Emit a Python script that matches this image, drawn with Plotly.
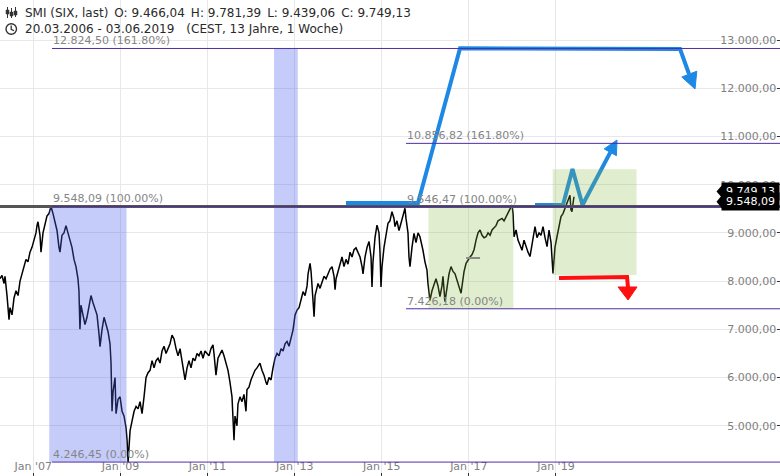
import plotly.graph_objects as go
from datetime import datetime

# ---------------- data (decimal years / index points) ----------------
price_t = [
 2006.235,2006.281,2006.327,2006.350,2006.396,2006.442,2006.465,2006.511,2006.557,2006.603,2006.649,2006.695,
 2006.741,2006.786,2006.832,2006.878,2006.924,2006.970,
 2007.016,2007.062,2007.085,2007.108,2007.154,2007.177,2007.223,2007.268,2007.314,2007.360,2007.407,2007.453,
 2007.499,2007.545,2007.590,2007.613,2007.659,2007.705,2007.751,2007.797,2007.843,2007.889,2007.935,2007.981,
 2008.026,2008.049,2008.072,2008.095,2008.141,2008.187,2008.233,2008.279,2008.325,2008.371,2008.417,2008.463,
 2008.509,2008.532,2008.578,2008.624,2008.670,2008.716,2008.761,2008.784,2008.807,2008.830,2008.876,2008.899,
 2008.945,2008.991,
 2009.037,2009.083,2009.129,2009.152,2009.175,2009.198,2009.221,2009.267,2009.313,2009.359,2009.405,2009.450,
 2009.496,2009.542,2009.588,2009.634,2009.680,2009.726,2009.772,2009.818,2009.863,2009.909,2009.955,
 2010.001,2010.047,2010.093,2010.139,2010.185,2010.231,2010.277,2010.323,2010.369,2010.415,2010.461,2010.484,
 2010.530,2010.575,2010.621,2010.667,2010.713,2010.759,2010.805,2010.851,2010.897,2010.943,2010.989,
 2011.034,2011.080,2011.126,2011.149,2011.195,2011.241,2011.287,2011.333,2011.379,2011.425,2011.471,2011.517,
 2011.563,2011.609,2011.632,2011.677,2011.700,2011.746,2011.792,2011.838,2011.884,2011.907,2011.953,2011.999,
 2012.045,2012.091,2012.137,2012.182,2012.205,2012.251,2012.297,2012.343,2012.366,2012.412,2012.458,2012.504,
 2012.550,2012.596,2012.642,2012.688,2012.734,2012.780,2012.825,2012.871,2012.917,2012.963,
 2013.009,2013.055,2013.101,2013.147,2013.193,2013.239,2013.285,2013.308,2013.354,2013.377,2013.400,2013.423,
 2013.446,2013.469,2013.515,2013.537,2013.583,2013.629,2013.675,2013.721,2013.767,2013.813,2013.859,2013.905,
 2013.928,2013.951,2013.997,
 2014.042,2014.088,2014.134,2014.180,2014.226,2014.272,2014.318,2014.364,2014.410,2014.456,2014.502,2014.548,
 2014.571,2014.617,2014.663,2014.709,2014.755,2014.777,2014.800,2014.846,2014.892,2014.938,2014.961,2014.984,
 2015.007,2015.053,2015.099,2015.145,2015.190,2015.236,2015.282,2015.305,2015.351,2015.397,2015.443,2015.489,
 2015.535,2015.558,2015.604,2015.627,2015.650,2015.696,2015.742,2015.788,2015.834,2015.879,2015.925,2015.948,
 2015.994,
 2016.040,2016.063,2016.109,2016.155,2016.201,2016.247,2016.293,2016.338,2016.384,2016.407,2016.453,2016.499,
 2016.545,2016.591,2016.637,2016.683,2016.729,2016.775,2016.821,2016.844,2016.890,2016.936,2016.981,
 2017.027,2017.073,2017.119,2017.165,2017.211,2017.257,2017.303,2017.349,2017.395,2017.441,2017.487,2017.533,
 2017.579,2017.624,2017.670,2017.716,2017.762,2017.808,2017.854,2017.900,2017.946,2017.992,
 2018.015,2018.038,2018.084,2018.129,2018.175,2018.221,2018.267,2018.313,2018.359,2018.405,2018.451,2018.497,
 2018.520,2018.566,2018.612,2018.658,2018.704,2018.750,2018.796,2018.842,2018.888,2018.933,2018.979,
 2019.025,2019.071,2019.117,2019.163,2019.209,2019.255,2019.301,2019.323,2019.346,2019.369,2019.392,2019.415,
]
price_v = [
 8050,8120,7950,8100,7700,7200,7450,7300,7650,7800,7700,8000,
 8150,8300,8450,8400,8600,8700,
 8850,9000,9150,9230,8950,8600,9000,9200,9350,9400,9548,9400,
 9250,9050,8700,8600,8950,9000,9150,9000,8800,8700,8450,8300,
 8050,7800,7000,7500,7300,7100,7250,7500,7700,7550,7400,7300,
 6900,6640,7000,7250,7100,6950,6700,6300,5300,5700,6000,5250,
 5550,5600,
 5300,5200,4950,4700,4250,4600,4900,5100,5300,5400,5350,5500,
 5250,5600,6000,6100,6150,6350,6200,6350,6400,6300,6550,
 6650,6500,6600,6700,6880,6800,6600,6450,6600,6300,6100,5950,
 6200,6350,6200,6400,6350,6500,6450,6550,6400,6550,6500,
 6450,6600,6680,6500,6050,6400,6500,6570,6450,6300,6150,5900,
 5600,4700,5200,5000,5450,5600,5500,5650,5300,5750,5800,5950,
 6050,6150,6200,6250,6300,6150,6050,5900,5850,6000,5950,6200,
 6400,6500,6450,6600,6550,6700,6750,6650,6850,6990,
 7300,7400,7450,7600,7780,7700,7900,8150,8370,8200,7900,7600,
 7262,7700,7900,7950,7850,8000,8100,8050,8150,8250,8300,8100,
 7820,8050,8200,
 8350,8500,8300,8450,8350,8600,8500,8650,8690,8600,8500,8300,
 8150,8500,8700,8820,8500,7880,8400,8900,9160,9000,8600,7880,
 8300,8700,8950,9200,9250,9440,9300,9130,9250,9050,9200,9350,
 9510,9300,9000,8500,8300,8700,8990,8800,9000,8920,8750,8640,
 8400,
 8230,7950,7600,7800,7950,8050,7900,7680,7900,8100,7573,7900,
 8150,8300,8200,8150,8000,7850,7750,7900,8200,8370,8450,
 8500,8550,8650,8850,9000,9060,8950,8900,8920,9000,8950,9060,
 9100,9150,9250,9270,9300,9250,9340,9400,9500,9578,
 9400,8920,9060,8850,8750,8640,8850,8700,8600,8510,8800,9000,
 9130,8900,9000,8950,9130,8900,8714,9060,8800,8160,8700,
 8920,9100,9340,9400,9500,9610,9700,9780,9480,9440,9600,9749,
]

# Fibonacci extension 1 (2007 high -> 2009 low)
fib1_levels = [12824.50, 9548.09, 4246.45]
fib1_labels = ["12.824,50 (161.80%)", "9.548,09 (100.00%)", "4.246,45 (0.00%)"]
fib1_start = 2007.430
fib1_zone_t = [2007.367, 2009.140]
fib1_zone2_t = [2012.527, 2013.071]

# Fibonacci extension 2 (2015 high -> 2016 low)
fib2_levels = [10856.82, 9546.47, 7426.18]
fib2_labels = ["10.856,82 (161.80%)", "9.546,47 (100.00%)", "7.426,18 (0.00%)"]
fib2_start = 2015.558
green1_t = [2016.075, 2018.022]
green1_v = [7426.18, 9546.47]
green2_t = [2018.927, 2020.851]
green2_v = [8127, 10319]

hline_level = 9548.09
last_close = 9749.13
mini_line_t = [2016.936, 2017.257]
mini_line_v = 8479

# hand-drawn projection arrows
arrow1_t = [2014.180, 2015.834, 2016.798, 2021.850, 2022.056]
arrow1_v = [9620, 9620, 12830, 12813, 12295]
arrow1_head_t = [2022.194, 2022.235, 2021.890]
arrow1_head_v = [11984, 12353, 12233]
arrow2_t = [2018.520, 2019.163, 2019.381, 2019.611, 2020.249]
arrow2_v = [9578, 9578, 10325, 9578, 10671]
arrow2_head_t = [2020.403, 2020.389, 2020.109]
arrow2_head_v = [10926, 10601, 10742]
red_t = [2019.071, 2020.633, 2020.656]
red_v = [8064, 8085, 7857]
red_head_t = [2020.656, 2020.426, 2020.862]
red_head_v = [7608, 7878, 7878]

ytick_vals = list(range(4000, 14000, 1000))
xtick_years = [2007, 2009, 2011, 2013, 2015, 2017, 2019]
xtick_text = ["Jan '07", "Jan '09", "Jan '11", "Jan '13", "Jan '15", "Jan '17", "Jan '19"]

header1 = "SMI (SIX, last)\u2002O: 9.466,04\u2002H: 9.781,39\u2002L: 9.439,06\u2002C: 9.749,13"
header2 = "20.03.2006 - 03.06.2019\u2002\u2002(CEST, 13 Jahre, 1 Woche)"

# ---------------- helpers ----------------
W, H = 780, 476
def dt(y):
    yr = int(y)
    s = datetime(yr, 1, 1); e = datetime(yr + 1, 1, 1)
    return s + (e - s) * (y - yr)
def px(x): return x / W
def py(y): return 1 - y / H

BLUE = "#1e88e5"
RED = "#ff1010"
PURPLE = "#4f2fa6"
FONT = "DejaVu Sans"

fig = go.Figure()
fig.add_trace(go.Scatter(x=[dt(t) for t in price_t], y=price_v, mode="lines",
                         line=dict(color="black", width=1.5), hoverinfo="skip"))
for tt, vv in [(arrow1_t, arrow1_v), (arrow2_t, arrow2_v)]:
    fig.add_trace(go.Scatter(x=[dt(t) for t in tt], y=vv, mode="lines",
                             line=dict(color=BLUE, width=4), hoverinfo="skip"))
fig.add_trace(go.Scatter(x=[dt(t) for t in red_t], y=red_v, mode="lines",
                         line=dict(color=RED, width=4), hoverinfo="skip"))
for tt, vv, c in [(arrow1_head_t, arrow1_head_v, BLUE), (arrow2_head_t, arrow2_head_v, BLUE),
                  (red_head_t, red_head_v, RED)]:
    fig.add_trace(go.Scatter(x=[dt(t) for t in tt + tt[:1]], y=vv + vv[:1], mode="lines",
                             fill="toself", fillcolor=c, line=dict(color=c, width=1), hoverinfo="skip"))

shapes = []
# fib zones (blue)
shapes.append(dict(type="rect", xref="x", yref="y", x0=dt(fib1_zone_t[0]), x1=dt(fib1_zone_t[1]),
                   y0=fib1_levels[2], y1=fib1_levels[1], fillcolor="rgba(80,100,240,0.33)",
                   line=dict(width=0), layer="above"))
shapes.append(dict(type="rect", xref="x", yref="y", x0=dt(fib1_zone2_t[0]), x1=dt(fib1_zone2_t[1]),
                   y0=fib1_levels[2], y1=fib1_levels[0], fillcolor="rgba(80,100,240,0.33)",
                   line=dict(width=0), layer="above"))
# green zones
for gt, gv in [(green1_t, green1_v), (green2_t, green2_v)]:
    shapes.append(dict(type="rect", xref="x", yref="y", x0=dt(gt[0]), x1=dt(gt[1]),
                       y0=gv[0], y1=gv[1], fillcolor="rgba(130,185,60,0.25)",
                       line=dict(width=0), layer="above"))
# horizontal gray line
shapes.append(dict(type="line", xref="paper", yref="y", x0=0, x1=1, y0=hline_level, y1=hline_level,
                   line=dict(color="#555555", width=3), layer="above"))
# fib lines
for lv in fib1_levels:
    shapes.append(dict(type="line", xref="x", yref="y", x0=dt(fib1_start), x1=dt(2024.2), y0=lv, y1=lv,
                       line=dict(color=PURPLE, width=1), layer="above"))
for lv in fib2_levels:
    shapes.append(dict(type="line", xref="x", yref="y", x0=dt(fib2_start), x1=dt(2024.2), y0=lv, y1=lv,
                       line=dict(color=PURPLE, width=1), layer="above"))
shapes.append(dict(type="line", xref="x", yref="y", x0=dt(mini_line_t[0]), x1=dt(mini_line_t[1]),
                   y0=mini_line_v, y1=mini_line_v, line=dict(color="#8a8a8a", width=2), layer="above"))

# price tag pointers
def ppath(pts):
    return "M " + " L ".join(f"{px(a):.5f},{py(b):.5f}" for a, b in pts) + " Z"
shapes.append(dict(type="path", xref="paper", yref="paper",
                   path=ppath([(716.5, 191.5), (723.5, 183.5), (723.5, 199.5)]),
                   fillcolor="black", line=dict(width=0)))
shapes.append(dict(type="path", xref="paper", yref="paper",
                   path=ppath([(716.5, 201.7), (723.5, 193.2), (723.5, 210.2)]),
                   fillcolor="black", line=dict(width=0)))

# header icons
ic = "#333333"
for xc, y0, y1, b0, b1 in [(7.5, 7, 18, 10, 14), (11.5, 8, 18, 12, 16), (15.5, 7, 17, 11, 15)]:
    shapes.append(dict(type="line", xref="paper", yref="paper", x0=px(xc), x1=px(xc),
                       y0=py(y0), y1=py(y1), line=dict(color=ic, width=1)))
    shapes.append(dict(type="rect", xref="paper", yref="paper", x0=px(xc - 1.5), x1=px(xc + 1.5),
                       y0=py(b0), y1=py(b1), fillcolor=ic, line=dict(color=ic, width=0.5)))
shapes.append(dict(type="circle", xref="paper", yref="paper", x0=px(6), x1=px(16.5),
                   y0=py(23.8), y1=py(34.3), line=dict(color=ic, width=1.4)))
shapes.append(dict(type="path", xref="paper", yref="paper",
                   path=f"M {px(11.2):.5f},{py(25.5):.5f} L {px(11.2):.5f},{py(29.3):.5f} L {px(14):.5f},{py(30.8):.5f}",
                   line=dict(color=ic, width=1.3)))

ann = []
lab_font = dict(family=FONT, size=11, color="#858585")
for lv, tx in zip(fib1_levels, fib1_labels):
    ann.append(dict(x=dt(fib1_start), y=lv, xref="x", yref="y", text=tx, showarrow=False,
                    xanchor="left", yanchor="bottom", font=lab_font, borderpad=0))
for lv, tx in zip(fib2_levels, fib2_labels):
    ann.append(dict(x=dt(fib2_start), y=lv, xref="x", yref="y", text=tx, showarrow=False,
                    xanchor="left", yanchor="bottom", font=lab_font, borderpad=0))
ann.append(dict(x=px(23), y=py(13), xref="paper", yref="paper", text=header1, showarrow=False,
                xanchor="left", yanchor="middle", font=dict(family=FONT, size=12, color="#2a2a2a")))
ann.append(dict(x=px(23), y=py(29), xref="paper", yref="paper", text=header2, showarrow=False,
                xanchor="left", yanchor="middle", font=dict(family=FONT, size=12, color="#2a2a2a")))
for val, yc in [(last_close, 191.5), (hline_level, 201.7)]:
    ann.append(dict(x=1, y=py(yc), xref="paper", yref="paper",
                    text=f"{val:,.2f}".replace(",", "X").replace(".", ",").replace("X", "."),
                    showarrow=False, xanchor="right", yanchor="middle", bgcolor="black",
                    font=dict(family=FONT, size=11, color="white"), width=55, height=15, borderpad=1))

fig.update_layout(
    width=W, height=H, margin=dict(l=0, r=0, t=0, b=0), autosize=False,
    paper_bgcolor="white", plot_bgcolor="white", showlegend=False, separators=",.",
    font=dict(family=FONT, size=11, color="#808080"),
    shapes=shapes, annotations=ann,
)
fig.update_xaxes(type="date", range=[dt(2006.235), dt(2024.146)],
                 tickvals=[datetime(y, 1, 1) for y in xtick_years], ticktext=xtick_text,
                 ticks="inside", ticklen=3, tickcolor="#333333", ticklabelposition="inside",
                 showgrid=True, gridcolor="#e8e8e8", gridwidth=1, zeroline=False, showline=False,
                 tickfont=dict(family=FONT, size=11, color="#808080"))
fig.update_yaxes(side="right", range=[3958, 13830], tickvals=ytick_vals, tickformat=",.2f",
                 ticks="inside", ticklen=3, tickcolor="#333333", ticklabelposition="inside",
                 showgrid=True, gridcolor="#e8e8e8", gridwidth=1, zeroline=False, showline=False,
                 tickfont=dict(family=FONT, size=11, color="#808080"))

fig.write_html("out.html", config={"displayModeBar": False}, post_script=(
    "document.documentElement.style.margin='0';document.body.style.margin='0';"
    "document.body.style.padding='0';document.body.style.overflow='hidden';"))
